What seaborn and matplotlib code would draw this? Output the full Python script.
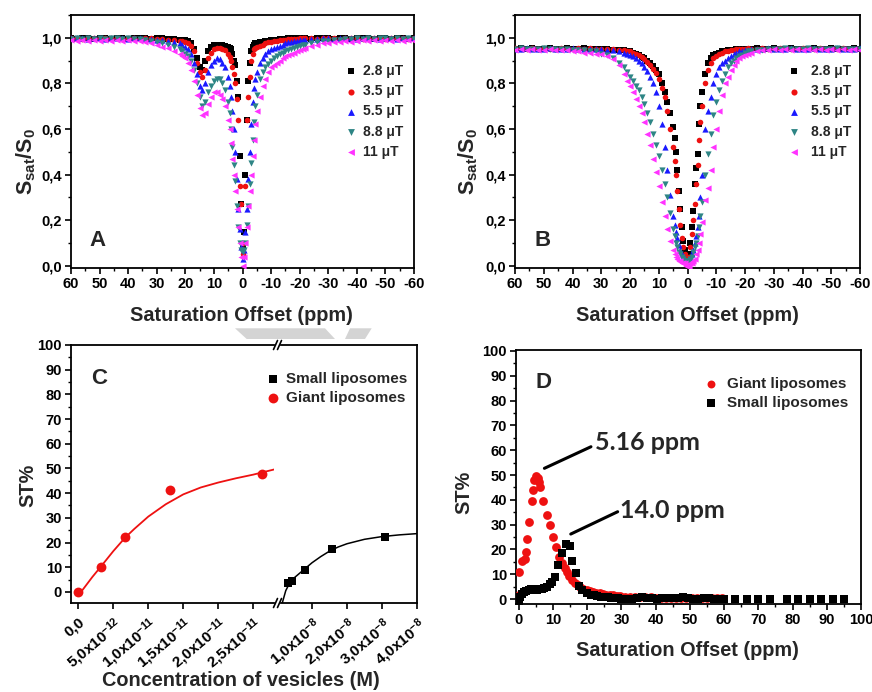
import numpy as np
import matplotlib
matplotlib.use("Agg")
import matplotlib.pyplot as plt
import seaborn as sns
from matplotlib.ticker import MultipleLocator, FuncFormatter
from matplotlib.patches import Polygon
from matplotlib.lines import Line2D

# ---------------- data ----------------
# saturation offsets (ppm) shared by panels A and B
OFFSETS = [60, 58, 56, 54, 52, 50, 48, 46, 44, 42, 40, 38, 36, 34, 32, 30, 28, 26, 24, 22,
           21, 20, 19, 18, 17, 16, 15, 14, 13, 12, 11, 10, 9, 8, 7, 6, 5,
           4.5, 4, 3.5, 3, 2.5, 2, 1.5, 1, 0.5, 0, -0.5, -1, -1.5, -2, -2.5, -3, -3.5, -4, -4.5,
           -5, -6, -7, -8, -9, -10, -11, -12, -13, -14, -15, -16, -17, -18, -19, -20, -21,
           -22, -24, -26, -28, -30, -32, -34, -36, -38, -40, -42, -44, -46, -48, -50, -52, -54, -56, -58, -60]

B1_LABELS = ["2.8 μT", "3.5 μT", "5.5 μT", "8.8 μT", "11 μT"]

# Panel A: small liposomes, Ssat/S0
A_28 = ([1.0, 0.995, 1.0, 1.0, 0.995, 1.0, 1.0, 0.995, 1.0, 1.0, 0.995, 1.0, 1.0, 1.0, 0.995, 1.0, 1.0, 0.995, 0.995, 0.99]
        + [0.99, 0.99, 0.985, 0.975, 0.95, 0.91, 0.87, 0.86, 0.9, 0.94, 0.96, 0.97, 0.97, 0.97, 0.97, 0.965, 0.96]
        + [0.955, 0.95, 0.93, 0.9, 0.88, 0.81, 0.74, 0.48, 0.27, 0.08, 0.15, 0.4, 0.64, 0.81, 0.89, 0.94, 0.96, 0.97, 0.975]
        + [0.975, 0.98, 0.98, 0.985, 0.985, 0.99, 0.99, 0.99, 0.995, 0.995, 0.995, 1.0, 1.0, 0.995, 1.0, 1.0, 1.0]
        + [1.0, 0.995, 1.0, 1.0, 1.0, 0.995, 1.0, 1.0, 0.995, 1.0, 1.0, 1.0, 0.995, 1.0, 1.0, 0.995, 1.0, 1.0, 0.995, 1.0])
A_35 = ([1.0, 1.0, 0.995, 1.0, 1.0, 0.995, 1.0, 1.0, 1.0, 0.995, 1.0, 1.0, 0.995, 1.0, 1.0, 0.995, 0.995, 0.99, 0.99, 0.985]
        + [0.985, 0.98, 0.975, 0.965, 0.94, 0.89, 0.85, 0.83, 0.86, 0.91, 0.935, 0.95, 0.955, 0.955, 0.95, 0.945, 0.93]
        + [0.915, 0.9, 0.87, 0.84, 0.8, 0.73, 0.64, 0.35, 0.27, 0.05, 0.1, 0.35, 0.64, 0.74, 0.83, 0.9, 0.93, 0.95, 0.955]
        + [0.96, 0.965, 0.97, 0.975, 0.98, 0.98, 0.985, 0.985, 0.99, 0.99, 0.99, 0.995, 0.995, 0.995, 0.995, 1.0, 1.0]
        + [1.0, 1.0, 0.995, 1.0, 1.0, 1.0, 0.995, 1.0, 1.0, 1.0, 0.995, 1.0, 1.0, 1.0, 0.995, 1.0, 1.0, 1.0, 0.995, 1.0])
A_55 = ([1.0, 1.0, 1.0, 0.995, 1.0, 1.0, 0.995, 1.0, 1.0, 1.0, 0.995, 1.0, 1.0, 0.995, 0.995, 0.99, 0.99, 0.985, 0.98, 0.975]
        + [0.97, 0.96, 0.95, 0.93, 0.89, 0.84, 0.79, 0.77, 0.8, 0.85, 0.88, 0.9, 0.91, 0.905, 0.89, 0.87, 0.83]
        + [0.79, 0.74, 0.68, 0.6, 0.5, 0.38, 0.25, 0.16, 0.08, 0.03, 0.07, 0.15, 0.25, 0.38, 0.5, 0.62, 0.72, 0.78, 0.82]
        + [0.85, 0.89, 0.91, 0.93, 0.94, 0.95, 0.955, 0.96, 0.965, 0.97, 0.975, 0.98, 0.98, 0.985, 0.985, 0.99, 0.99]
        + [0.99, 0.995, 0.995, 1.0, 1.0, 0.995, 1.0, 1.0, 1.0, 0.995, 1.0, 1.0, 1.0, 0.995, 1.0, 1.0, 0.995, 1.0, 1.0, 1.0])
A_88 = ([0.995, 1.0, 0.995, 1.0, 0.995, 1.0, 0.995, 1.0, 1.0, 0.995, 1.0, 0.995, 0.995, 0.99, 0.985, 0.98, 0.975, 0.97, 0.96, 0.95]
        + [0.94, 0.93, 0.92, 0.9, 0.86, 0.8, 0.74, 0.7, 0.72, 0.76, 0.79, 0.81, 0.82, 0.82, 0.8, 0.77, 0.72]
        + [0.67, 0.6, 0.52, 0.44, 0.37, 0.26, 0.17, 0.1, 0.07, 0.06, 0.07, 0.1, 0.18, 0.26, 0.36, 0.45, 0.55, 0.63, 0.7]
        + [0.75, 0.82, 0.85, 0.87, 0.885, 0.9, 0.91, 0.92, 0.93, 0.935, 0.94, 0.945, 0.95, 0.955, 0.96, 0.965, 0.97]
        + [0.97, 0.975, 0.98, 0.985, 0.985, 0.99, 0.99, 0.995, 0.995, 1.0, 0.995, 1.0, 0.995, 1.0, 1.0, 0.995, 1.0, 0.995, 1.0, 0.995])
A_11 = ([0.99, 0.985, 0.99, 0.985, 0.99, 0.985, 0.99, 0.985, 0.99, 0.985, 0.99, 0.985, 0.985, 0.98, 0.975, 0.97, 0.96, 0.955, 0.94, 0.93]
        + [0.92, 0.91, 0.89, 0.86, 0.81, 0.75, 0.69, 0.66, 0.67, 0.71, 0.74, 0.76, 0.76, 0.75, 0.73, 0.7, 0.64]
        + [0.6, 0.54, 0.47, 0.4, 0.33, 0.25, 0.17, 0.1, 0.04, 0.0, 0.04, 0.1, 0.17, 0.26, 0.33, 0.4, 0.48, 0.55, 0.62]
        + [0.68, 0.74, 0.79, 0.82, 0.85, 0.87, 0.88, 0.89, 0.9, 0.91, 0.92, 0.925, 0.93, 0.935, 0.94, 0.945, 0.95]
        + [0.955, 0.965, 0.97, 0.975, 0.975, 0.98, 0.98, 0.985, 0.98, 0.985, 0.99, 0.985, 0.99, 0.985, 0.99, 0.985, 0.99, 0.985, 0.99, 0.985])

# Panel B: giant liposomes, Ssat/S0
B_28 = ([0.95, 0.955, 0.95, 0.955, 0.95, 0.95, 0.955, 0.95, 0.95, 0.955, 0.95, 0.95, 0.955, 0.95, 0.95, 0.95, 0.95, 0.945, 0.945, 0.945]
        + [0.94, 0.94, 0.935, 0.93, 0.925, 0.915, 0.91, 0.9, 0.89, 0.875, 0.86, 0.84, 0.8, 0.76, 0.72, 0.67, 0.61]
        + [0.56, 0.5, 0.42, 0.33, 0.25, 0.17, 0.11, 0.07, 0.04, 0.03, 0.05, 0.1, 0.17, 0.24, 0.36, 0.43, 0.49, 0.62, 0.7]
        + [0.76, 0.84, 0.89, 0.91, 0.925, 0.93, 0.935, 0.94, 0.94, 0.945, 0.945, 0.945, 0.95, 0.95, 0.95, 0.95, 0.95]
        + [0.95, 0.955, 0.95, 0.95, 0.955, 0.95, 0.95, 0.955, 0.95, 0.95, 0.95, 0.955, 0.95, 0.95, 0.955, 0.95, 0.95, 0.95, 0.955, 0.95])
B_35 = ([0.955, 0.95, 0.95, 0.955, 0.95, 0.955, 0.95, 0.95, 0.955, 0.95, 0.95, 0.955, 0.95, 0.955, 0.95, 0.95, 0.95, 0.95, 0.945, 0.945]
        + [0.94, 0.94, 0.935, 0.93, 0.925, 0.915, 0.905, 0.895, 0.88, 0.865, 0.845, 0.82, 0.78, 0.74, 0.68, 0.6, 0.52]
        + [0.46, 0.4, 0.33, 0.25, 0.18, 0.12, 0.08, 0.05, 0.03, 0.02, 0.04, 0.08, 0.14, 0.2, 0.27, 0.36, 0.44, 0.55, 0.63]
        + [0.7, 0.8, 0.86, 0.89, 0.91, 0.92, 0.93, 0.935, 0.94, 0.94, 0.945, 0.945, 0.95, 0.95, 0.95, 0.95, 0.955]
        + [0.95, 0.95, 0.955, 0.95, 0.95, 0.955, 0.95, 0.95, 0.95, 0.955, 0.95, 0.95, 0.955, 0.95, 0.95, 0.95, 0.955, 0.95, 0.95, 0.95])
B_55 = ([0.95, 0.95, 0.955, 0.95, 0.95, 0.95, 0.955, 0.95, 0.95, 0.95, 0.955, 0.95, 0.95, 0.95, 0.95, 0.95, 0.945, 0.945, 0.94, 0.935]
        + [0.93, 0.925, 0.92, 0.91, 0.9, 0.89, 0.87, 0.855, 0.83, 0.8, 0.76, 0.7, 0.62, 0.52, 0.42, 0.31, 0.22]
        + [0.18, 0.15, 0.12, 0.09, 0.07, 0.05, 0.04, 0.03, 0.02, 0.02, 0.02, 0.03, 0.05, 0.07, 0.1, 0.13, 0.17, 0.22, 0.3]
        + [0.4, 0.6, 0.68, 0.74, 0.8, 0.84, 0.87, 0.89, 0.9, 0.91, 0.92, 0.93, 0.935, 0.94, 0.94, 0.945, 0.945]
        + [0.95, 0.95, 0.95, 0.955, 0.95, 0.95, 0.95, 0.955, 0.95, 0.95, 0.95, 0.955, 0.95, 0.95, 0.95, 0.955, 0.95, 0.95, 0.95, 0.955])
B_88 = ([0.95, 0.955, 0.95, 0.95, 0.95, 0.955, 0.95, 0.95, 0.95, 0.95, 0.945, 0.945, 0.945, 0.94, 0.94, 0.93, 0.925, 0.91, 0.89, 0.87]
        + [0.85, 0.83, 0.81, 0.79, 0.77, 0.74, 0.71, 0.67, 0.63, 0.58, 0.53, 0.48, 0.42, 0.36, 0.3, 0.23, 0.16]
        + [0.13, 0.1, 0.08, 0.06, 0.05, 0.04, 0.03, 0.02, 0.02, 0.02, 0.02, 0.03, 0.04, 0.06, 0.08, 0.1, 0.13, 0.17, 0.22]
        + [0.28, 0.4, 0.49, 0.58, 0.66, 0.72, 0.77, 0.81, 0.84, 0.87, 0.89, 0.9, 0.91, 0.92, 0.925, 0.935, 0.94]
        + [0.94, 0.945, 0.945, 0.95, 0.95, 0.95, 0.955, 0.95, 0.95, 0.95, 0.955, 0.95, 0.95, 0.95, 0.95, 0.955, 0.95, 0.95, 0.95, 0.95])
B_11 = ([0.945, 0.95, 0.945, 0.95, 0.945, 0.945, 0.95, 0.945, 0.945, 0.945, 0.94, 0.94, 0.935, 0.935, 0.93, 0.93, 0.92, 0.905, 0.88, 0.84]
        + [0.81, 0.79, 0.76, 0.73, 0.7, 0.67, 0.63, 0.58, 0.53, 0.47, 0.41, 0.35, 0.28, 0.22, 0.16, 0.11, 0.07]
        + [0.05, 0.04, 0.03, 0.02, 0.02, 0.01, 0.01, 0.01, 0.0, 0.0, 0.0, 0.01, 0.01, 0.02, 0.03, 0.05, 0.07, 0.1, 0.14]
        + [0.19, 0.29, 0.34, 0.42, 0.52, 0.6, 0.68, 0.75, 0.8, 0.83, 0.86, 0.88, 0.9, 0.91, 0.92, 0.925, 0.93]
        + [0.935, 0.94, 0.945, 0.945, 0.95, 0.945, 0.95, 0.945, 0.95, 0.945, 0.95, 0.945, 0.95, 0.945, 0.95, 0.945, 0.95, 0.945, 0.95, 0.945])

# Panel C: ST% vs vesicle concentration
GIANT_CONC = [0.0, 3.3e-12, 6.7e-12, 1.31e-11, 2.63e-11]
GIANT_ST = [0.0, 10.2, 22.3, 41.1, 47.6]
GIANT_FIT_CONC = [0.0, 2e-12, 3.3e-12, 5e-12, 6.7e-12, 8e-12, 1e-11, 1.25e-11, 1.5e-11, 1.75e-11, 2e-11, 2.25e-11, 2.5e-11, 2.8e-11]
GIANT_FIT_ST = [-1.5, 6.0, 10.5, 16.5, 22.0, 25.5, 30.5, 35.5, 39.5, 42.3, 44.3, 46.0, 47.5, 49.6]
SMALL_CONC = [0.31e-8, 0.43e-8, 0.8e-8, 1.57e-8, 3.09e-8]
SMALL_ST = [3.7, 4.6, 9.0, 17.3, 22.2]
SMALL_FIT_CONC = [0.15e-8, 0.25e-8, 0.35e-8, 0.5e-8, 0.8e-8, 1.0e-8, 1.25e-8, 1.5e-8, 1.75e-8, 2.0e-8, 2.5e-8, 3.0e-8, 3.5e-8, 4.0e-8]
SMALL_FIT_ST = [-4.5, 0.5, 3.3, 5.8, 9.4, 11.8, 14.3, 16.5, 18.2, 19.5, 21.3, 22.4, 23.1, 23.6]
C_TICKS_LEFT = [0.0, 5e-12, 1e-11, 1.5e-11, 2e-11, 2.5e-11]
C_LABELS_LEFT = ["0,0", r"5,0x10$^{-12}$", r"1,0x10$^{-11}$", r"1,5x10$^{-11}$", r"2,0x10$^{-11}$", r"2,5x10$^{-11}$"]
C_TICKS_RIGHT = [1e-8, 2e-8, 3e-8, 4e-8]
C_LABELS_RIGHT = [r"1,0x10$^{-8}$", r"2,0x10$^{-8}$", r"3,0x10$^{-8}$", r"4,0x10$^{-8}$"]

# Panel D: ST% spectra
D_GIANT_X = [0.0, 0.2, 1.0, 1.7, 2.2, 2.5, 3.1, 3.8, 4.1, 4.4, 4.9, 5.5, 5.8, 6.2, 7.0, 8.3, 9.0, 9.9, 10.9, 11.8,
             12.6, 13.4, 14.1, 14.8, 15.6, 16.4, 17.2, 18.0, 18.9, 19.8, 20.7, 21.6, 22.6, 23.6, 24.6, 25.6, 26.6, 27.6, 28.6, 29.6,
             31, 32.5, 34, 35.5, 37, 38.5, 40, 41.5, 43, 44.5, 46, 47.5, 49, 50.5, 52, 53.5, 55, 56.5, 58, 59.5]
D_GIANT_Y = [1.5, 11.0, 15.4, 16.0, 19.0, 24.4, 31.0, 39.4, 44.0, 47.8, 49.8, 48.9, 47.0, 45.0, 39.4, 33.7, 30.0, 25.0, 21.0, 17.0,
             14.5, 12.5, 10.7, 9.2, 7.8, 6.6, 5.6, 4.8, 4.2, 3.7, 3.3, 2.9, 2.6, 2.3, 2.0, 1.8, 1.6, 1.5, 1.3, 1.2,
             1.0, 0.9, 0.8, 0.8, 0.7, 0.7, 0.6, 0.6, 0.6, 0.5, 0.5, 0.6, 0.5, 0.4, 0.5, 0.4, 0.4, 0.5, 0.4, 0.4]
D_SMALL_X = [0.2, 0.4, 0.9, 1.6, 2.2, 2.9, 3.6, 4.3, 5.2, 5.9, 6.7, 7.5, 8.4, 9.1, 9.8, 10.6, 11.6, 12.5, 13.8, 14.9,
             15.7, 16.7, 17.7, 18.6, 19.8, 21, 22, 23, 24, 25, 26, 27, 28, 29, 30, 31.5, 33, 34.5, 36, 37.5,
             39, 40.5, 42, 43.5, 45, 46.5, 48, 49.5, 51, 52.5, 54, 55.5, 57, 58.5, 60, 63.3, 66.7, 70, 73.3, 78.3,
             81.7, 85, 88.3, 91.7, 95]
D_SMALL_Y = [-1.3, 0.9, 2.0, 2.9, 3.3, 3.6, 3.9, 3.9, 3.6, 4.0, 3.9, 4.3, 5.0, 6.0, 7.0, 9.0, 13.9, 18.6, 22.1, 21.3,
             15.4, 10.3, 5.4, 3.6, 2.3, 1.8, 1.5, 1.2, 1.0, 1.0, 0.8, 0.6, 0.5, 0.3, 0.2, 0.1, 0.0, 0.3, 0.8, 0.6,
             0.4, 0.2, 0.3, 0.5, 0.6, 0.4, 0.7, 0.3, 0.0, 0.2, 0.4, 0.3, 0.2, 0.1, 0.0, 0.0, 0.0, 0.0, 0.0, 0.0,
             0.0, 0.0, 0.0, 0.0, 0.0]

# ---------------- style ----------------
sns.set_theme(style="white")
plt.rcParams["font.family"] = ["Liberation Sans", "DejaVu Sans"]
plt.rcParams["font.weight"] = "bold"
plt.rcParams["axes.unicode_minus"] = False
plt.rcParams["mathtext.fontset"] = "custom"
plt.rcParams["mathtext.rm"] = "Liberation Sans:bold"
plt.rcParams["mathtext.it"] = "Liberation Sans:bold"
plt.rcParams["mathtext.bf"] = "Liberation Sans:bold"
plt.rcParams["mathtext.default"] = "rm"

W, H = 872, 692
fig = plt.figure(figsize=(W / 100, H / 100), dpi=100)
fig.patch.set_facecolor("white")


def rect(l, t, r, b):
    return [l / W, 1 - b / H, (r - l) / W, (b - t) / H]


def fx(x):
    return x / W


def fy(y):
    return 1 - y / H


def style_axes(ax, left=True, right=True):
    for side, sp in ax.spines.items():
        sp.set_color("black")
        sp.set_linewidth(1.3)
    ax.spines["left"].set_visible(left)
    ax.spines["right"].set_visible(right)
    ax.tick_params(which="both", direction="out", top=False, right=False,
                   left=left, bottom=True, colors="black", labelsize=10.5, pad=2)
    ax.tick_params(which="major", length=4.5, width=1.2)
    ax.tick_params(which="minor", length=2.5, width=1.0)
    ax.set_facecolor("white")
    ax.set_xlabel("")
    ax.set_ylabel("")


COLORS = ["black", "#ee1111", "#1a1aff", "#2e8585", "#ff33ff"]
MARKERS = ["s", "o", "^", "v", "<"]
SIZES = [14, 16, 20, 20, 20]
comma = FuncFormatter(lambda v, p: f"{v:.1f}".replace(".", ","))
intfmt = FuncFormatter(lambda v, p: f"{v:.0f}")

# ---------------- panels A and B ----------------
axA = fig.add_axes(rect(71, 15, 414, 268))
axB = fig.add_axes(rect(515, 15, 860, 268))
for ax, series, letter, lx in [(axA, [A_28, A_35, A_55, A_88, A_11], "A", 97.5),
                               (axB, [B_28, B_35, B_55, B_88, B_11], "B", 542.5)]:
    for vals, lab, c, m, s in zip(series, B1_LABELS, COLORS, MARKERS, SIZES):
        sns.scatterplot(x=OFFSETS, y=vals, marker=m, color=c, s=s, linewidth=0,
                        label=lab, legend=False, ax=ax, zorder=3)
    style_axes(ax)
    ax.set_xlim(60, -60)
    ax.set_ylim(-0.01, 1.10)
    ax.xaxis.set_major_locator(MultipleLocator(10))
    ax.xaxis.set_minor_locator(MultipleLocator(5))
    ax.yaxis.set_major_locator(MultipleLocator(0.2))
    ax.yaxis.set_minor_locator(MultipleLocator(0.1))
    ax.yaxis.set_major_formatter(comma)
    ax.xaxis.set_major_formatter(intfmt)
    ax.text(fx(lx), fy(241), letter, transform=fig.transFigure, fontsize=16,
            fontweight="bold", ha="center", va="center")

axA.legend(loc="upper left", bbox_to_anchor=(fx(344), fy(64)), bbox_transform=fig.transFigure,
           frameon=False, fontsize=10, handlelength=1.0, handletextpad=0.35,
           labelspacing=0.45, borderpad=0, borderaxespad=0, markerscale=1.1)
axB.legend(loc="upper left", bbox_to_anchor=(fx(787), fy(64)), bbox_transform=fig.transFigure,
           frameon=False, fontsize=10, handlelength=1.0, handletextpad=0.75,
           labelspacing=0.45, borderpad=0, borderaxespad=0, markerscale=1.1)

for cx in (241.7, 687.5):
    fig.text(fx(cx), fy(316), "Saturation Offset (ppm)", fontsize=14.3, fontweight="bold",
             ha="center", va="center")
for cx in (26, 468.5):
    fig.text(fx(cx), fy(161), r"S$_{\mathrm{sat}}$/S$_{\mathrm{0}}$", fontsize=15.5, fontweight="bold",
             ha="center", va="center", rotation=90)

# ---------------- panel C ----------------
axC1 = fig.add_axes(rect(71, 345, 274, 603))
axC2 = fig.add_axes(rect(281, 345, 417, 603))
sns.lineplot(x=GIANT_FIT_CONC, y=GIANT_FIT_ST, color="#ee1111", linewidth=1.3, sort=False, ax=axC1, zorder=2)
sns.scatterplot(x=GIANT_CONC, y=GIANT_ST, marker="o", color="#ee1111", s=50, linewidth=0,
                label="Giant liposomes", legend=False, ax=axC1, zorder=3)
sns.lineplot(x=SMALL_FIT_CONC, y=SMALL_FIT_ST, color="black", linewidth=1.1, sort=False, ax=axC2, zorder=2)
sns.scatterplot(x=SMALL_CONC, y=SMALL_ST, marker="s", color="black", s=38, linewidth=0,
                label="Small liposomes", legend=False, ax=axC2, zorder=3)

style_axes(axC1, left=True, right=False)
style_axes(axC2, left=False, right=True)
for ax in (axC1, axC2):
    ax.set_ylim(-4.5, 100)
    ax.yaxis.set_major_locator(MultipleLocator(10))
    ax.yaxis.set_minor_locator(MultipleLocator(5))
axC2.tick_params(axis="y", which="both", left=False, labelleft=False)
axC1.set_xlim(-1.04e-12, 2.796e-11)
axC2.set_xlim(0.114e-8, 4.0e-8)
axC1.set_xticks(C_TICKS_LEFT, C_LABELS_LEFT)
axC2.set_xticks(C_TICKS_RIGHT, C_LABELS_RIGHT)
axC1.xaxis.set_minor_locator(plt.NullLocator())
axC2.xaxis.set_minor_locator(plt.NullLocator())
for ax in (axC1, axC2):
    for t in ax.get_xticklabels():
        t.set_rotation(40)
        t.set_ha("right")
        t.set_rotation_mode("anchor")
        t.set_fontsize(11)
    ax.tick_params(axis="x", pad=4)

# break marks
for yb in (345, 603):
    for x0 in (273.5, 277.5):
        fig.add_artist(Line2D([fx(x0), fx(x0 + 4)], [fy(yb + 4.5), fy(yb - 4.5)],
                              transform=fig.transFigure, color="black", linewidth=1.2))

hC1, lC1 = axC1.get_legend_handles_labels()
hC2, lC2 = axC2.get_legend_handles_labels()
axC2.legend(hC2 + hC1, lC2 + lC1, loc="upper left", bbox_to_anchor=(fx(265), fy(372)),
            bbox_transform=fig.transFigure, frameon=False, fontsize=11, handlelength=1.0,
            handletextpad=0.4, labelspacing=0.3, borderpad=0, borderaxespad=0)

fig.text(fx(99), fy(378), "C", fontsize=16, fontweight="bold", ha="center", va="center")
fig.text(fx(241), fy(681), "Concentration of vesicles (M)", fontsize=14.3, fontweight="bold",
         ha="center", va="center")
fig.text(fx(27.5), fy(485), "ST%", fontsize=14.3, fontweight="bold", ha="center", va="center", rotation=90)

# ---------------- panel D ----------------
axD = fig.add_axes(rect(516, 350, 861, 604))
sns.scatterplot(x=D_GIANT_X, y=D_GIANT_Y, marker="o", color="#ee1111", s=40, linewidth=0,
                label="Giant liposomes", legend=False, ax=axD, zorder=3)
sns.scatterplot(x=D_SMALL_X, y=D_SMALL_Y, marker="s", color="black", s=32, linewidth=0,
                label="Small liposomes", legend=False, ax=axD, zorder=4)
style_axes(axD)
axD.set_xlim(-0.8, 100)
axD.set_ylim(-2, 100.4)
axD.xaxis.set_major_locator(MultipleLocator(10))
axD.xaxis.set_minor_locator(MultipleLocator(5))
axD.yaxis.set_major_locator(MultipleLocator(10))
axD.yaxis.set_minor_locator(MultipleLocator(5))
axD.xaxis.set_major_formatter(intfmt)
axD.yaxis.set_major_formatter(intfmt)
axD.legend(loc="upper left", bbox_to_anchor=(fx(703), fy(377)), bbox_transform=fig.transFigure,
           frameon=False, fontsize=11, handlelength=1.0, handletextpad=0.55, labelspacing=0.3,
           borderpad=0, borderaxespad=0, markerscale=0.9)

axD.annotate("", xy=(7.5, 52.7), xytext=(21.1, 61.4),
             arrowprops=dict(arrowstyle="-", color="black", lw=2.2, shrinkA=0, shrinkB=0))
axD.annotate("", xy=(15.2, 26.2), xytext=(28.9, 35.2),
             arrowprops=dict(arrowstyle="-", color="black", lw=2.2, shrinkA=0, shrinkB=0))
fig.text(fx(595), fy(450), "5.16 ppm", fontsize=18, fontweight="bold", family=["Lato", "DejaVu Sans"],
         ha="left", va="baseline")
fig.text(fx(620), fy(518.3), "14.0 ppm", fontsize=18, fontweight="bold", family=["Lato", "DejaVu Sans"],
         ha="left", va="baseline")

fig.text(fx(543.5), fy(382.5), "D", fontsize=16, fontweight="bold", ha="center", va="center")
fig.text(fx(687.5), fy(650), "Saturation Offset (ppm)", fontsize=14.3, fontweight="bold",
         ha="center", va="center")
fig.text(fx(463.5), fy(492), "ST%", fontsize=14.3, fontweight="bold", ha="center", va="center", rotation=90)

# faint grey shapes between the panels
for pts in ([(235, 328.3), (325, 328.3), (335, 339), (246.7, 339)],
            [(350, 328.3), (371.7, 328.3), (365, 339), (345, 339)]):
    fig.add_artist(Polygon([(fx(x), fy(y)) for x, y in pts], closed=True, transform=fig.transFigure,
                           facecolor="#d4d4d4", edgecolor="none", zorder=0))

fig.savefig("out.png", dpi=100, facecolor="white")
